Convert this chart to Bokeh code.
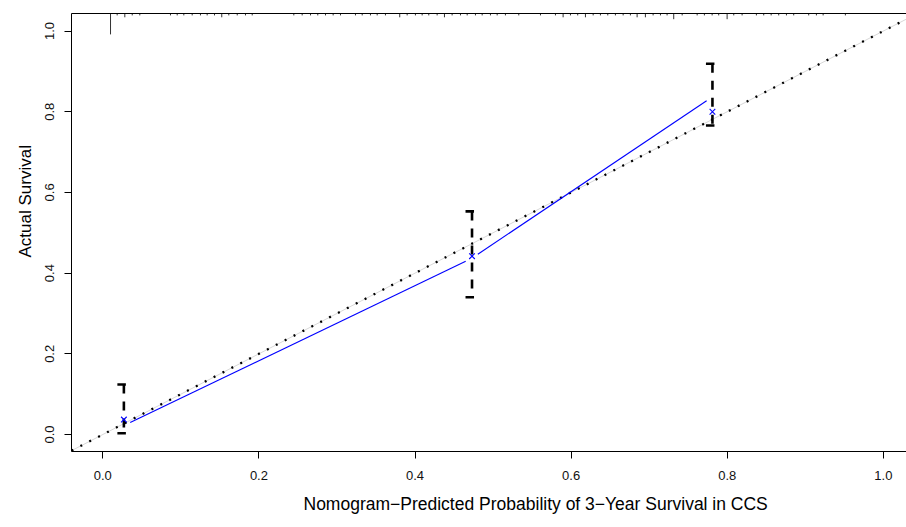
import numpy as np
from bokeh.plotting import figure
from bokeh.models import Range1d, LinearAxis, FixedTicker, Title, PrintfTickFormatter
from bokeh.embed import file_html
from bokeh.resources import INLINE

# ---------------- data ----------------
pred = [0.027, 0.473, 0.781]            # nomogram-predicted 3-year survival (group means)
obs_km = [0.022, 0.437, 0.837]          # observed (Kaplan-Meier) survival
obs_corrected = [0.037, 0.442, 0.800]   # bias-corrected estimates (x marks)
ci_lower = [0.003, 0.340, 0.766]
ci_upper = [0.124, 0.553, 0.919]

tick_vals = [0.0, 0.2, 0.4, 0.6, 0.8, 1.0]

# distribution of predicted values (spike histogram along the top)
rug_pred = [0.0099, 0.0184, 0.0282, 0.0377, 0.0474, 0.0867, 0.0953, 0.1038, 0.1145, 0.1251,
            0.1337, 0.1431, 0.1524, 0.1614, 0.1722, 0.1828, 0.1914, 0.2447, 0.2554, 0.2661,
            0.2754, 0.2853, 0.2951, 0.3045, 0.3237, 0.3323, 0.3429, 0.3515, 0.3621, 0.3804,
            0.3899, 0.4005, 0.4091, 0.4176, 0.4283, 0.4377, 0.4475, 0.4582, 0.4668, 0.4774,
            0.4860, 0.4966, 0.5052, 0.5158, 0.5329, 0.5607, 0.5799, 0.5897, 0.5991, 0.6084,
            0.6183, 0.6282, 0.6375, 0.6469, 0.6567, 0.6666, 0.6759, 0.6845, 0.6951, 0.7050,
            0.7144, 0.7229, 0.7314, 0.7422, 0.7614, 0.7707, 0.7806, 0.7890, 0.7998, 0.8083,
            0.8190, 0.8373, 0.8467, 0.8562, 0.8659, 0.8758, 0.8851, 0.9043, 0.9142, 0.9228,
            0.9513]
rug_count = [11, 1, 2, 1, 1, 1, 1, 1, 1, 1,
             1, 1, 2, 1, 1, 1, 1, 1, 1, 1,
             1, 1, 1, 1, 1, 1, 1, 1, 1, 2,
             1, 1, 1, 1, 1, 2, 1, 1, 1, 1,
             1, 1, 1, 1, 1, 1, 1, 2, 1, 1,
             2, 1, 1, 1, 1, 1, 1, 2, 2, 1,
             1, 1, 3, 1, 1, 1, 1, 1, 3, 1,
             1, 1, 1, 1, 1, 1, 1, 1, 1, 1,
             1]

# ---------------- geometry ----------------
W, H = 906, 527
FL, FR, FT, FB = 71, 906, 13, 451          # frame edges in px
X0, X1 = -0.0401, 1.0296
Y0, Y1 = -0.0421, 1.0434
SX = (FR - FL) / (X1 - X0)                 # px per x unit
SY = (FB - FT) / (Y1 - Y0)                 # px per y unit

FONT = "Liberation Sans"

p = figure(width=W, height=H, output_backend="svg", toolbar_location=None,
           x_range=Range1d(X0, X1), y_range=Range1d(Y0, Y1),
           min_border_left=FL, min_border_right=W - FR, min_border_top=FT,
           min_border_bottom=H - FB, background_fill_color="white",
           border_fill_color="white", outline_line_color=None)
p.grid.visible = False

for ax in (p.xaxis[0], p.yaxis[0]):
    ax.ticker = FixedTicker(ticks=tick_vals)
    ax.formatter = PrintfTickFormatter(format="%.1f")
    ax.major_tick_out = 7
    ax.major_tick_in = 0
    ax.minor_tick_line_color = None
    ax.axis_line_color = "black"
    ax.major_tick_line_color = "black"
    ax.major_label_text_font = FONT
    ax.major_label_text_font_size = "13px"
    ax.major_label_text_color = "#111111"
p.xaxis[0].major_label_standoff = 12
p.yaxis[0].major_label_standoff = 10
p.yaxis[0].major_label_orientation = "vertical"

top_axis = LinearAxis(ticker=FixedTicker(ticks=[]), axis_line_color="black",
                      major_tick_line_color=None, minor_tick_line_color=None,
                      major_tick_out=0, major_tick_in=0)
p.add_layout(top_axis, "above")

# ideal line (y = x)
diag = [X0, X1]
p.line(diag, diag, line_color="#d8d8d8", line_width=1)
p.line(diag, diag, line_color="black", line_width=2.3, line_dash="2 8")

# blue observed line with gaps around points (type = "b")
GAP = 7.0
bx0, by0, bx1, by1 = [], [], [], []
for i in range(len(pred) - 1):
    ax_, ay_ = pred[i] * SX, obs_km[i] * SY
    bx_, by_ = pred[i + 1] * SX, obs_km[i + 1] * SY
    d = np.hypot(bx_ - ax_, by_ - ay_)
    ux, uy = (bx_ - ax_) / d, (by_ - ay_) / d
    bx0.append((ax_ + ux * GAP) / SX); by0.append((ay_ + uy * GAP) / SY)
    bx1.append((bx_ - ux * GAP) / SX); by1.append((by_ - uy * GAP) / SY)
p.segment(x0=bx0, y0=by0, x1=bx1, y1=by1, line_color="#0000ff", line_width=1.1)

# error bars
p.segment(x0=pred, y0=ci_upper, x1=pred, y1=ci_lower, line_color="black",
          line_width=2.6, line_dash="9 8")
cap_l = [v - 6.5 / SX for v in pred]
cap_r = [v + 2.0 / SX for v in pred]
p.segment(x0=cap_l, y0=ci_upper, x1=cap_r, y1=ci_upper, line_color="black", line_width=2.6)
p.segment(x0=cap_l, y0=ci_lower, x1=cap_r, y1=ci_lower, line_color="black", line_width=2.6)

# bias-corrected estimates
p.scatter(pred, obs_corrected, marker="x", size=8, line_color="#0000ff", line_width=1.1)

# spike histogram of predictions at top
rug_y1 = [Y1 - c * 1.9 / SY for c in rug_count]
p.segment(x0=rug_pred, y0=[Y1] * len(rug_pred), x1=rug_pred, y1=rug_y1,
          line_color="#333333", line_width=1)

# axis titles
p.add_layout(Title(text="Nomogram\u2212Predicted Probability of 3\u2212Year Survival in CCS",
                   align="left", offset=232, standoff=19, text_font=FONT,
                   text_font_size="17.5px", text_font_style="normal", text_color="black"),
             "below")
p.add_layout(Title(text="Actual Survival", align="left", offset=194, standoff=16,
                   text_font=FONT, text_font_size="17px", text_font_style="normal",
                   text_color="black"),
             "left")

open("out.html", "w").write(file_html(p, INLINE))
